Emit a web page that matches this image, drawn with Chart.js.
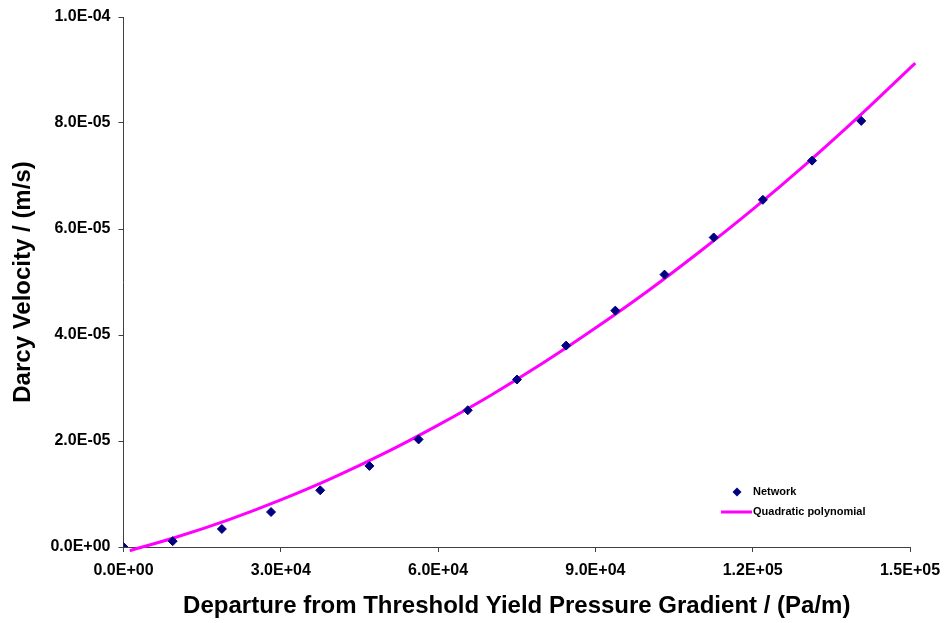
<!DOCTYPE html>
<html>
<head>
<meta charset="utf-8">
<script src="https://cdn.jsdelivr.net/npm/chart.js@4.4.1/dist/chart.umd.min.js"></script>
<style>
  html, body { margin: 0; padding: 0; background: #fff; }
  #wrap { width: 944px; height: 623px; position: relative; }
</style>
</head>
<body>
<div id="wrap"><canvas id="chart"></canvas></div>
<script>
// network results
const networkX = [0, 9380, 18760, 28140, 37520, 46900, 56280, 65660, 75040, 84420, 93800, 103180, 112560, 121940, 131320, 140700];
const networkY = [0, 1.1e-6, 3.4e-6, 6.6e-6, 1.07e-5, 1.53e-5, 2.03e-5, 2.58e-5, 3.16e-5, 3.80e-5, 4.46e-5, 5.14e-5, 5.84e-5, 6.55e-5, 7.29e-5, 8.04e-5];

// fitted curve, points
const fitX = [1200, 10000, 20000, 30000, 40000, 50000, 60000, 70000, 80000, 90000, 100000, 110000, 120000, 130000, 140000, 151000];
const fitY = [-0.7e-6, 1.83e-6, 5.13e-6, 8.9e-6, 1.31e-5, 1.78e-5, 2.30e-5, 2.86e-5, 3.47e-5, 4.13e-5, 4.83e-5, 5.58e-5, 6.37e-5, 7.21e-5, 8.10e-5, 9.13e-5];

const seriesNames = ["Network", "Quadratic polynomial"];

const FONT = "'Liberation Sans', Arial, Helvetica, sans-serif";

// 1.0E-04 style labels
function sci(v) {
  if (Math.abs(v) < 1e-20) return "0.0E+00";
  const parts = Number(v).toExponential(1).split("e");
  let exp = parseInt(parts[1], 10);
  const sign = exp < 0 ? "-" : "+";
  exp = Math.abs(exp);
  return parts[0] + "E" + sign + (exp < 10 ? "0" + exp : exp);
}

// legend drawn inside the plot area, bottom right
const innerLegend = {
  id: "innerLegend",
  afterDraw(chart) {
    const ctx = chart.ctx;
    const ds = chart.data.datasets;
    const x0 = 721, y0 = 492, gap = 20;
    ctx.save();
    ctx.font = "bold 11px " + FONT;
    ctx.textBaseline = "middle";
    // marker entry
    const r = 4.5;
    ctx.fillStyle = ds[0].backgroundColor;
    ctx.beginPath();
    ctx.moveTo(x0 + 16, y0 - r);
    ctx.lineTo(x0 + 16 + r, y0);
    ctx.lineTo(x0 + 16, y0 + r);
    ctx.lineTo(x0 + 16 - r, y0);
    ctx.closePath();
    ctx.fill();
    ctx.fillStyle = "#000";
    ctx.fillText(ds[0].label, x0 + 32, y0);
    // line entry
    ctx.strokeStyle = ds[1].borderColor;
    ctx.lineWidth = ds[1].borderWidth;
    ctx.beginPath();
    ctx.moveTo(x0, y0 + gap);
    ctx.lineTo(x0 + 31, y0 + gap);
    ctx.stroke();
    ctx.fillText(ds[1].label, x0 + 32, y0 + gap);
    ctx.restore();
  }
};

new Chart(document.getElementById("chart"), {
  type: "scatter",
  data: {
    datasets: [
      {
        label: seriesNames[0],
        data: networkX.map((x, i) => ({ x: x, y: networkY[i] })),
        backgroundColor: "#000080",
        borderColor: "#000080",
        pointStyle: "rectRot",
        pointRadius: 4.5,
        pointHoverRadius: 4.5,
        order: 0,
      },
      {
        label: seriesNames[1],
        type: "line",
        data: fitX.map((x, i) => ({ x: x, y: fitY[i] })),
        borderColor: "#FF00FF",
        backgroundColor: "#FF00FF",
        borderWidth: 3,
        pointRadius: 0,
        fill: false,
        cubicInterpolationMode: "monotone",
        clip: { left: 5, top: 5, right: 10, bottom: 6 },
        order: 1,
      },
    ],
  },
  options: {
    responsive: true,
    maintainAspectRatio: false,
    animation: false,
    layout: { padding: { left: 0, right: 34, top: 17, bottom: 0 } },
    plugins: {
      legend: { display: false },
      tooltip: { enabled: false },
    },
    scales: {
      x: {
        type: "linear",
        min: 0,
        max: 150000,
        afterFit(scale) {
          scale.height = 76;
          scale.paddingLeft = 0;
          scale.paddingRight = 0;
        },
        ticks: {
          stepSize: 30000,
          padding: 9,
          color: "#000",
          maxRotation: 0,
          font: { family: FONT, size: 16, weight: "bold" },
          callback: (v) => sci(v),
        },
        grid: { drawOnChartArea: false, drawTicks: true, tickLength: 5, color: "#404040" },
        border: { color: "#404040", width: 1 },
        title: {
          display: true,
          text: "Departure from Threshold Yield Pressure Gradient / (Pa/m)",
          color: "#000",
          font: { family: FONT, size: 24, weight: "bold" },
          padding: { top: 0, bottom: 2 },
        },
      },
      y: {
        type: "linear",
        min: 0,
        max: 1e-4,
        afterFit(scale) {
          scale.width = 123.5;
          scale.paddingTop = 0;
          scale.paddingBottom = 0;
        },
        ticks: {
          stepSize: 2e-5,
          padding: 8,
          color: "#000",
          font: { family: FONT, size: 16, weight: "bold" },
          callback: (v) => sci(v),
        },
        grid: { drawOnChartArea: false, drawTicks: true, tickLength: 5, color: "#404040" },
        border: { color: "#404040", width: 1 },
        title: {
          display: true,
          text: "Darcy Velocity / (m/s)",
          color: "#000",
          font: { family: FONT, size: 24, weight: "bold" },
          padding: { top: 9, bottom: 0 },
        },
      },
    },
  },
  plugins: [innerLegend],
});
</script>
</body>
</html>
